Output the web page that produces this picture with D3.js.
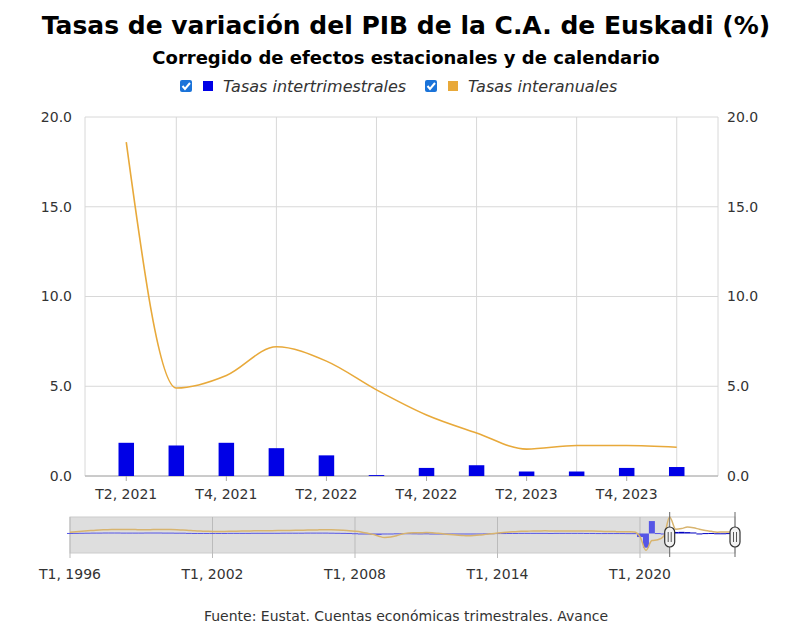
<!DOCTYPE html>
<html><head><meta charset="utf-8">
<script src="https://cdn.jsdelivr.net/npm/d3@7"></script>
<style>body{margin:0;background:#fff}text{font-family:"DejaVu Sans",sans-serif}</style>
</head><body><div class="chart"></div>
<script>
const quarters = ['T2, 2021','T3, 2021','T4, 2021','T1, 2022','T2, 2022','T3, 2022','T4, 2022','T1, 2023','T2, 2023','T3, 2023','T4, 2023','T1, 2024'];
const interTrim = [1.85,1.7,1.85,1.55,1.15,0.05,0.45,0.6,0.25,0.25,0.45,0.5];
const interAnual = [18.6,4.9,5.6,7.2,6.4,4.8,3.4,2.4,1.5,1.7,1.7,1.6];
const yTicks = [0,5,10,15,20];
const xTickLabels = ['T2, 2021','T4, 2021','T2, 2022','T4, 2022','T2, 2023','T4, 2023'];

// navigator series, T1 1996 .. T1 2024
const navInterAnual = [1.5,2,2.5,3, 3.5,4,4.2,4.5, 4.5,4.6,4.5,4.4, 4.2,4.3,4.4,4.5, 4.6,4.5,4.3,4, 3.5,3,2.7,2.5,
  2.3,2.2,2.3,2.5, 2.6,2.7,2.8,3, 3,3.1,3.2,3.3, 3.4,3.5,3.6,3.7, 3.8,4,4.1,4.2, 4.1,3.9,3.6,3.2,
  2.6,1.8,0.5,-1, -3,-4.5,-4,-2.5, -0.5,0.5,0.8,0.9, 1,0.8,0.2,-0.5, -1.2,-1.8,-2.2,-2.5, -2.3,-1.8,-1,-0.3,
  0.5,1.2,1.7,2, 2.4,2.6,2.8,2.9, 3,2.9,2.8,2.8, 2.8,2.9,2.9,2.8, 2.7,2.5,2.3,2.2, 2.1,2,1.9,1.8,
  -3.5,-19,-8,-7, -3,18.6,4.9,5.6, 7.2,6.4,4.8,3.4, 2.4,1.5,1.7,1.7, 1.6];
const navInterTrim = [0.6,0.7,0.8,0.9, 1,1,1.1,1.1, 1.1,1,1,1, 1,1.1,1.1,1.1, 1,1,0.9,0.9, 0.7,0.6,0.6,0.6,
  0.6,0.6,0.6,0.7, 0.7,0.7,0.7,0.8, 0.8,0.8,0.8,0.8, 0.9,0.9,0.9,0.9, 1,1,1,1, 0.9,0.8,0.7,0.6,
  0.3,0,-0.8,-1.5, -1.6,-0.8,-0.2,0.2, 0.3,0.3,0.2,0.1, 0.2,0,-0.3,-0.5, -0.6,-0.6,-0.5,-0.6, -0.4,-0.2,0.1,0.3,
  0.5,0.5,0.6,0.6, 0.7,0.7,0.7,0.7, 0.7,0.6,0.7,0.7, 0.7,0.7,0.7,0.6, 0.6,0.5,0.5,0.5, 0.5,0.5,0.4,0.4,
  -4,-16,14,0.5, -0.5,1.85,1.7,1.85, 1.55,1.15,0.05,0.45, 0.6,0.25,0.25,0.45, 0.5];
const navTickLabels = ['T1, 1996','T1, 2002','T1, 2008','T1, 2014','T1, 2020'];

const blue = '#0000e6', orange = '#e8a93a';
const svg = d3.select('.chart').append('svg').attr('width', 808).attr('height', 636);

svg.append('text').attr('x', 406).attr('y', 34).attr('text-anchor', 'middle')
  .attr('font-size', '25px').attr('font-weight', 'bold').text('Tasas de variación del PIB de la C.A. de Euskadi (%)');
svg.append('text').attr('x', 406).attr('y', 64).attr('text-anchor', 'middle')
  .attr('font-size', '18px').attr('font-weight', 'bold').text('Corregido de efectos estacionales y de calendario');

// legend
const legend = [{x: 180, c: blue, t: 'Tasas intertrimestrales'}, {x: 425, c: orange, t: 'Tasas interanuales'}];
legend.forEach(l => {
  const g = svg.append('g').attr('transform', `translate(${l.x},80)`);
  g.append('rect').attr('width', 12).attr('height', 12).attr('rx', 2).attr('fill', '#1a73d9');
  g.append('path').attr('d', 'M2.5,6 L5,9 L10,3').attr('stroke', '#fff').attr('stroke-width', 2).attr('fill', 'none');
  g.append('rect').attr('x', 23).attr('y', 1).attr('width', 10).attr('height', 10).attr('fill', l.c);
  g.append('text').attr('x', 43).attr('y', 12).attr('font-size', '16px').attr('font-style', 'italic').attr('fill', '#333').text(l.t);
});

const pLeft = 85, pRight = 718, pTop = 117, pBottom = 476;
const x = d3.scaleBand().domain(quarters).range([109, 694]).paddingInner(0.69).paddingOuter(0.19);
const xc = d => x(d) + x.bandwidth() / 2;
const y = d3.scaleLinear().domain([0, 20]).range([pBottom, pTop]);

svg.append('g').selectAll('line').data(yTicks).enter().append('line')
  .attr('x1', pLeft).attr('x2', pRight).attr('y1', d => y(d)).attr('y2', d => y(d)).attr('stroke', '#d8d8d8');
// vertical grid at odd quarters
const vgrid = [pLeft].concat(quarters.filter((d, i) => i % 2 === 1).map(d => xc(d))).concat([pRight]);
svg.append('g').selectAll('line').data(vgrid).enter().append('line')
  .attr('x1', d => d).attr('x2', d => d).attr('y1', pTop).attr('y2', pBottom).attr('stroke', '#d8d8d8');

svg.append('line').attr('x1', pLeft).attr('x2', pRight).attr('y1', pBottom).attr('y2', pBottom).attr('stroke', '#aaa');

const yl = svg.append('g').attr('transform', `translate(${pLeft - 10},0)`)
  .call(d3.axisLeft(y).tickValues(yTicks).tickFormat(d3.format('.1f')).tickSize(0));
const yr = svg.append('g').attr('transform', `translate(${pRight + 6},0)`)
  .call(d3.axisRight(y).tickValues(yTicks).tickFormat(d3.format('.1f')).tickSize(0));
[yl, yr].forEach(a => { a.select('.domain').remove(); a.selectAll('text').attr('font-size', '14px').attr('fill', '#333').attr('font-family', 'DejaVu Sans'); });

const xa = svg.append('g').attr('transform', `translate(0,${pBottom})`)
  .call(d3.axisBottom(x).tickValues(xTickLabels).tickSize(5));
xa.select('.domain').remove();
xa.selectAll('line').attr('stroke', '#aaa');
xa.selectAll('text').attr('font-size', '14px').attr('fill', '#333').attr('font-family', 'DejaVu Sans').attr('dy', '1.1em');

svg.append('g').selectAll('rect').data(interTrim).enter().append('rect')
  .attr('x', (d, i) => x(quarters[i])).attr('width', x.bandwidth())
  .attr('y', d => y(d)).attr('height', d => y(0) - y(d)).attr('fill', blue);

svg.append('path').datum(interAnual)
  .attr('d', d3.line().x((d, i) => xc(quarters[i])).y(d => y(d)).curve(d3.curveMonotoneX))
  .attr('fill', 'none').attr('stroke', orange).attr('stroke-width', 1.6);

// navigator
const nx = d3.scaleLinear().domain([0, navInterAnual.length - 1]).range([70, 735]);
const ny = d3.scaleLinear().domain([-22, 18.6]).range([553, 517]);
const nav = svg.append('g');
nav.append('rect').attr('x', 70).attr('y', 517).attr('width', nx(101) - 70).attr('height', 36).attr('fill', '#dedede');
nav.append('rect').attr('x', 70).attr('y', 517).attr('width', 665).attr('height', 36).attr('fill', 'none').attr('stroke', '#ccc');
const navTickIdx = navTickLabels.map((d, i) => i * 24);
nav.selectAll('.g').data(navTickIdx).enter().append('line')
  .attr('x1', d => nx(d)).attr('x2', d => nx(d)).attr('y1', 517).attr('y2', 558).attr('stroke', '#bbb');
nav.selectAll('.bar').data(navInterTrim).enter().append('rect')
  .attr('x', (d, i) => nx(i) - 3).attr('width', 6)
  .attr('y', d => ny(Math.max(0, d))).attr('height', d => Math.max(1, Math.abs(ny(d) - ny(0))))
  .attr('fill', (d, i) => i >= 101 ? '#0000c0' : '#5555e6');
nav.append('path').datum(navInterAnual)
  .attr('d', d3.line().x((d, i) => nx(i)).y(d => ny(d)).curve(d3.curveMonotoneX))
  .attr('fill', 'none').attr('stroke', '#d8b46e').attr('stroke-width', 1.5);
nav.selectAll('.lbl').data(navTickLabels).enter().append('text')
  .attr('x', (d, i) => nx(navTickIdx[i])).attr('y', 579).attr('text-anchor', 'middle')
  .attr('font-size', '14px').attr('fill', '#333').text(d => d);
[nx(101), 735].forEach(hx => {
  nav.append('line').attr('x1', hx).attr('x2', hx).attr('y1', 512).attr('y2', 557).attr('stroke', '#666');
  nav.append('rect').attr('x', hx - 5).attr('y', 527).attr('width', 10).attr('height', 20).attr('rx', 5)
    .attr('fill', '#f2f2f2').attr('stroke', '#333').attr('stroke-width', 1.2);
  nav.append('line').attr('x1', hx - 1.5).attr('x2', hx - 1.5).attr('y1', 532).attr('y2', 542).attr('stroke', '#555');
  nav.append('line').attr('x1', hx + 1.5).attr('x2', hx + 1.5).attr('y1', 532).attr('y2', 542).attr('stroke', '#555');
});

svg.append('text').attr('x', 406).attr('y', 621).attr('text-anchor', 'middle').attr('font-size', '14px').attr('fill', '#333')
  .text('Fuente: Eustat. Cuentas económicas trimestrales. Avance');
</script></body></html>
